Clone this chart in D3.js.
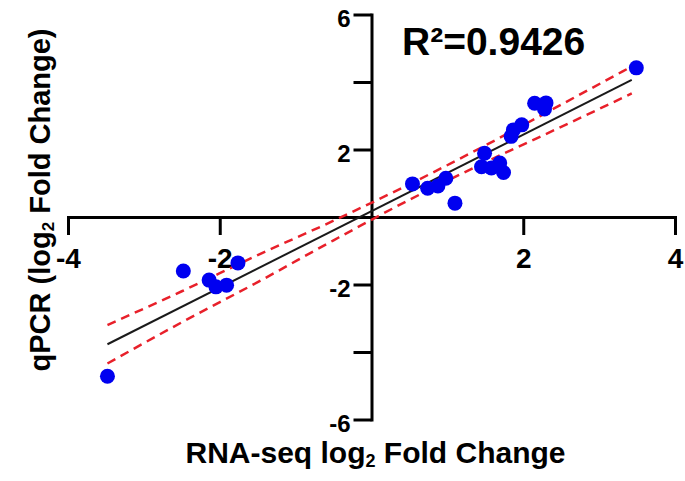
<!DOCTYPE html>
<html>
<head>
<meta charset="utf-8">
<script src="https://cdn.jsdelivr.net/npm/d3@7"></script>
<style>
  body { margin: 0; background: #fff; }
  svg { display: block; font-family: 'Liberation Sans', Arial, sans-serif; font-weight: bold; }
  .axis path, .axis line { stroke: #000; stroke-width: 3px; }
  .axis text { fill: #000; font-weight: bold; }
</style>
</head>
<body>
<svg id="chart" width="685" height="481"></svg>
<script>
  'use strict';

  // RNA-seq vs qPCR log2 fold change
  var rnaSeq = [
    -3.48, -2.48, -2.14, -2.05, -1.91, -1.76,
    0.54, 0.74, 0.875, 0.98, 1.10,
    1.45, 1.49, 1.58, 1.69, 1.74,
    1.84, 1.87, 1.98, 2.15, 2.30, 2.28,
    3.49
  ];
  var qpcr = [
    -4.72, -1.60, -1.87, -2.07, -2.02, -1.36,
    0.98, 0.85, 0.92, 1.15, 0.41,
    1.49, 1.89, 1.45, 1.60, 1.32,
    2.39, 2.58, 2.73, 3.37, 3.38, 3.20,
    4.42
  ];

  // fitted line and 95% band
  var fitX = [-3.48, 3.43];
  var fitY = [-3.77, 4.06];
  var bandX = [-3.48, -2.5, -1.5, -0.5, 0.5, 1.5, 2.5, 3.43];
  var bandUpper = [-3.20, -2.20, -1.13, -0.11, 0.97, 2.12, 3.33, 4.46];
  var bandLower = [-4.34, -3.12, -1.93, -0.69, 0.51, 1.62, 2.67, 3.66];

  var xTicks = [-4, -2, 2, 4];
  var yTicks = [-6, -4, -2, 2, 4, 6];
  var yLabels = [-6, -2, 2, 6];
  var rSquared = 'R\u00b2=0.9426';

  var svg = d3.select('#chart');

  var x = d3.scaleLinear().domain([-4, 4]).range([68, 675]);
  var y = d3.scaleLinear().domain([-6, 6]).range([419.5, 14.5]);

  var xAxis = d3.axisBottom(x)
    .tickValues(xTicks)
    .tickSize(18)
    .tickSizeOuter(0)
    .tickPadding(13)
    .tickFormat(function(d) { return String(d); });

  var yAxis = d3.axisLeft(y)
    .tickValues(yTicks)
    .tickSize(18)
    .tickSizeOuter(0)
    .tickPadding(3)
    .tickFormat(function(d) { return yLabels.indexOf(d) >= 0 ? String(d) : ''; });

  svg.append('g')
    .attr('class', 'axis')
    .attr('transform', 'translate(0,' + y(0) + ')')
    .call(xAxis)
    .selectAll('text')
    .style('font-size', '28px');

  svg.append('g')
    .attr('class', 'axis')
    .attr('transform', 'translate(' + x(0) + ',0)')
    .call(yAxis)
    .selectAll('text')
    .attr('dy', '0.52em')
    .style('font-size', '24px');

  svg.selectAll('.axis .domain').attr('stroke-linecap', 'square');

  var line = d3.line()
    .x(function(d) { return x(d[0]); })
    .y(function(d) { return y(d[1]); });

  var bandLine = d3.line()
    .x(function(d) { return x(d[0]); })
    .y(function(d) { return y(d[1]); })
    .curve(d3.curveMonotoneX);

  [bandUpper, bandLower].forEach(function(band)
  {
    svg.append('path')
      .datum(d3.zip(bandX, band))
      .attr('d', bandLine)
      .attr('fill', 'none')
      .attr('stroke', '#e8202a')
      .attr('stroke-width', 2.5)
      .attr('stroke-dasharray', '9,6');
  });

  svg.append('path')
    .datum(d3.zip(fitX, fitY))
    .attr('d', line)
    .attr('fill', 'none')
    .attr('stroke', '#1a1a1a')
    .attr('stroke-width', 2);

  svg.append('g')
    .selectAll('circle')
    .data(d3.zip(rnaSeq, qpcr))
    .enter()
    .append('circle')
    .attr('cx', function(d) { return x(d[0]); })
    .attr('cy', function(d) { return y(d[1]); })
    .attr('r', 7.5)
    .attr('fill', '#0000f0');

  svg.append('text')
    .attr('x', 402)
    .attr('y', 55)
    .style('font-size', '39px')
    .text(rSquared);

  var xTitle = svg.append('text')
    .attr('x', 375.5)
    .attr('y', 463)
    .attr('text-anchor', 'middle')
    .style('font-size', '30px');
  xTitle.append('tspan').text('RNA-seq log');
  xTitle.append('tspan').attr('dy', 4).style('font-size', '18px').text('2');
  xTitle.append('tspan').attr('dy', -4).text(' Fold Change');

  var yTitle = svg.append('text')
    .attr('transform', 'translate(50,200) rotate(-90)')
    .attr('text-anchor', 'middle')
    .style('font-size', '29px');
  yTitle.append('tspan').text('qPCR (log');
  yTitle.append('tspan').attr('dy', 4).style('font-size', '17px').text('2');
  yTitle.append('tspan').attr('dy', -4).text(' Fold Change)');
</script>
</body>
</html>
